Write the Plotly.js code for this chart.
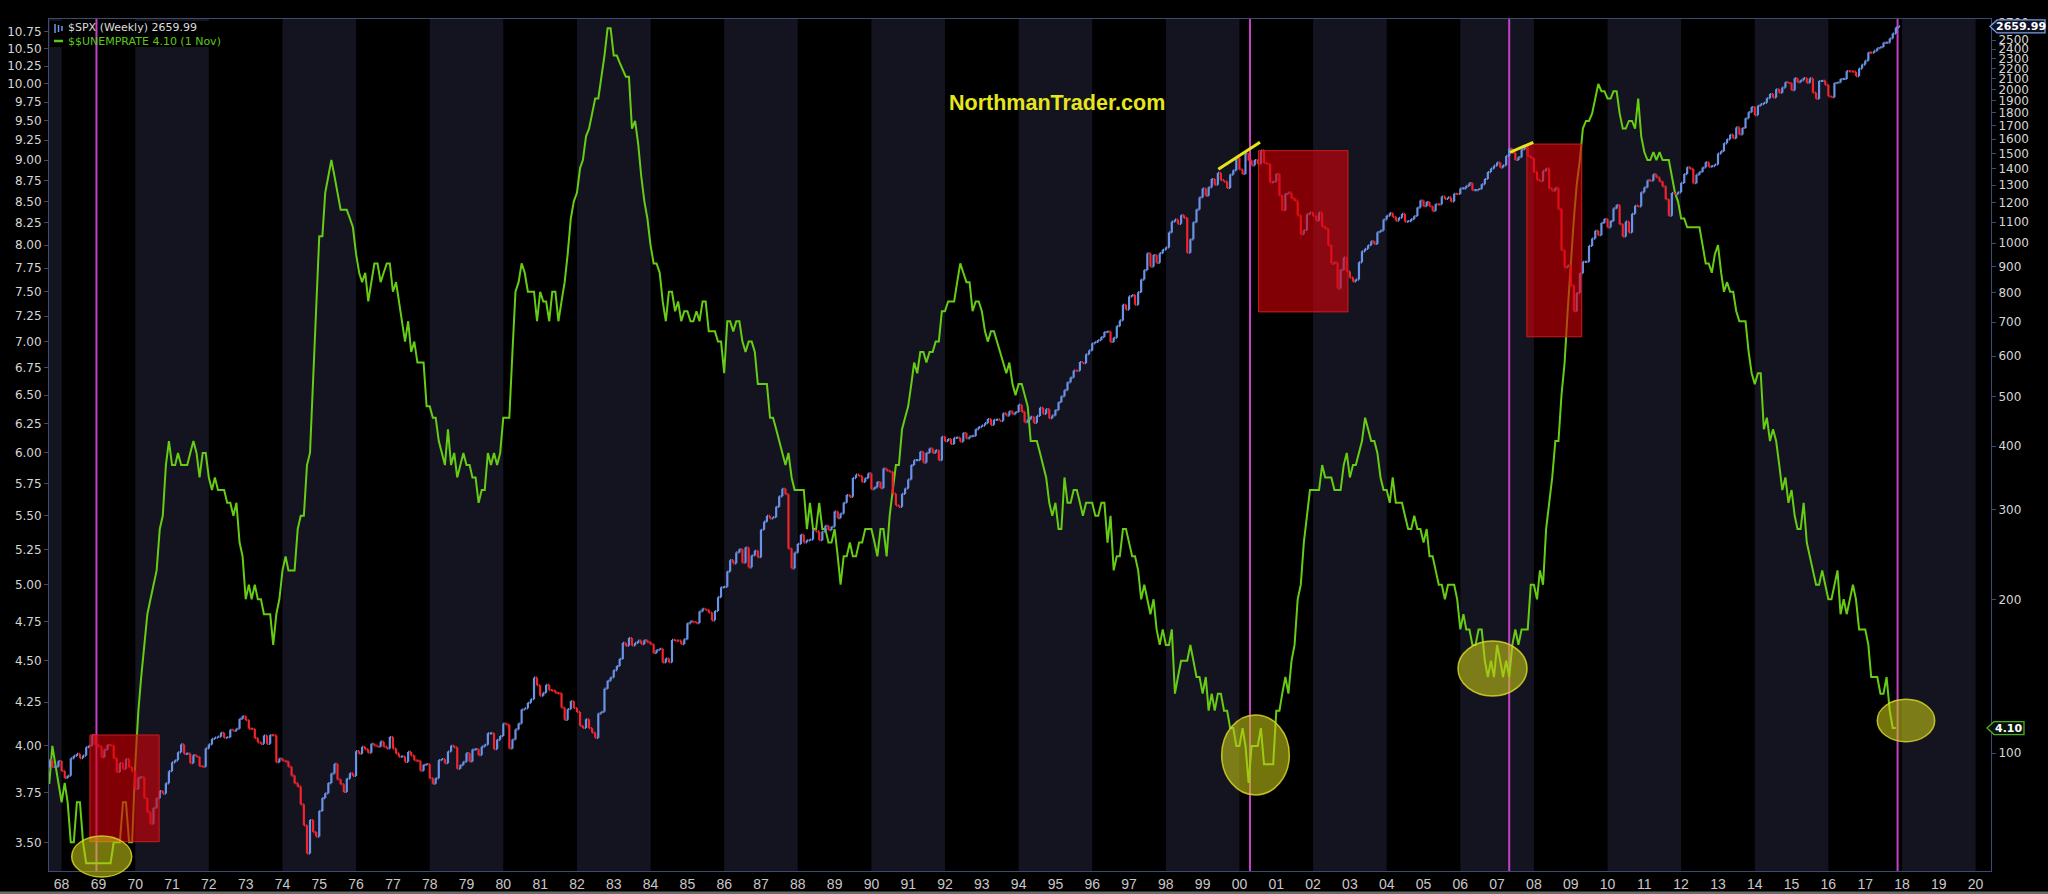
<!DOCTYPE html>
<html><head><meta charset="utf-8">
<script src="https://cdn.plot.ly/plotly-3.0.1.min.js"></script>
<style>html,body{margin:0;padding:0;background:#000;}#chart{width:2048px;height:894px;}</style>
</head><body><div id="chart"></div>
<script>
// ---------------- DATA ----------------
// Both series are monthly, starting August 1967.
const startYear = 1967, startMonth = 8;

// S&P 500 monthly closes
const spx1960s = [93.64,96.71,93.90,94.00,96.47,
 92.24,89.36,90.20,97.59,98.68,99.58,97.74,98.86,102.67,103.41,108.37,103.86,
 103.01,98.13,101.51,103.69,103.46,97.71,91.83,95.51,93.12,97.24,93.81,92.06];
const spx1970s = [
 85.02,89.50,89.63,81.52,76.55,72.72,78.05,81.52,84.21,83.25,87.20,92.15,
 95.88,96.75,100.31,103.95,99.63,99.70,95.58,99.03,98.34,94.23,93.99,102.09,
 103.94,106.57,107.20,107.67,109.53,107.14,107.39,111.09,110.55,111.58,116.67,118.05,
 116.03,111.68,111.52,106.97,104.95,104.26,108.22,104.25,108.43,108.29,95.96,97.55,
 96.57,96.22,93.98,90.31,87.28,86.00,79.31,72.15,63.54,73.90,69.97,68.56,
 76.98,81.59,83.36,87.30,91.15,95.19,88.75,86.88,83.87,89.04,91.24,90.19,
 100.86,99.71,102.77,101.64,100.18,104.28,103.44,102.91,105.24,102.90,102.10,107.46,
 102.03,99.82,98.42,98.44,96.12,100.48,98.85,96.77,96.53,92.34,94.83,95.10,
 89.25,87.04,89.21,96.83,97.24,95.53,100.68,103.29,102.54,93.15,94.70,96.11,
 99.93,96.28,101.59,101.76,99.08,102.91,103.81,109.32,109.32,101.82,106.16,107.94];
const spx1980s = [
 114.16,113.66,102.09,106.29,111.24,114.24,121.67,122.38,125.46,127.47,140.52,135.76,
 129.55,131.27,136.00,132.81,132.59,131.21,130.92,122.79,116.18,121.89,126.35,122.55,
 120.40,113.11,111.96,116.44,111.88,109.61,107.09,119.51,120.42,133.71,138.54,140.64,
 145.30,148.06,152.96,164.42,162.39,168.11,162.56,164.40,166.07,163.55,166.40,164.93,
 163.41,157.06,159.18,160.05,150.55,153.18,150.66,166.68,166.10,166.09,163.58,167.24,
 179.63,181.18,180.66,179.83,189.55,191.85,190.92,188.63,182.08,189.82,202.17,211.28,
 211.78,226.92,238.90,235.52,247.35,250.84,236.12,252.93,231.32,243.98,249.22,242.17,
 274.08,284.20,291.70,288.36,290.10,304.00,318.66,329.80,321.83,251.79,230.30,247.08,
 257.07,267.82,258.89,261.33,262.16,273.50,272.02,261.52,271.91,278.97,273.70,277.72,
 297.47,288.86,294.87,309.64,320.52,317.98,346.08,351.45,349.15,340.36,345.99,353.40];
const spx1990s = [
 329.08,331.89,339.94,330.80,361.23,358.02,356.15,322.56,306.05,304.00,322.22,330.22,
 343.93,367.07,375.22,375.35,389.83,371.16,387.81,395.43,387.86,392.46,375.22,417.09,
 408.79,412.70,403.69,414.95,415.35,408.14,424.21,414.03,417.80,418.68,431.35,435.71,
 438.78,443.38,451.67,440.19,450.19,450.53,448.13,463.56,458.93,467.83,461.79,466.45,
 481.61,467.14,445.77,450.91,456.50,444.27,458.26,475.49,462.69,472.35,453.69,459.27,
 470.42,487.39,500.71,514.71,533.40,544.75,562.06,561.88,584.41,581.50,605.37,615.93,
 636.02,640.43,645.50,654.17,669.12,670.63,639.95,651.99,687.31,705.27,757.02,740.74,
 786.16,790.82,757.12,801.34,848.28,885.14,954.31,899.47,947.28,914.62,955.40,970.43,
 980.28,1049.34,1101.75,1111.75,1090.82,1133.84,1120.67,957.28,1017.01,1098.67,1163.63,1229.23,
 1279.64,1238.33,1286.37,1335.18,1301.84,1372.71,1328.72,1320.41,1282.71,1362.93,1388.91,1469.25];
const spx2000s = [
 1394.46,1366.42,1498.58,1452.43,1420.60,1454.60,1430.83,1517.68,1436.51,1429.40,1314.95,1320.28,
 1366.01,1239.94,1160.33,1249.46,1255.82,1224.38,1211.23,1133.58,1040.94,1059.78,1139.45,1148.08,
 1130.20,1106.73,1147.39,1076.92,1067.14,989.82,911.62,916.07,815.28,885.76,936.31,879.82,
 855.70,841.15,848.18,916.92,963.59,974.50,990.31,1008.01,995.97,1050.71,1058.20,1111.92,
 1131.13,1144.94,1126.21,1107.30,1120.68,1140.84,1101.72,1104.24,1114.58,1130.20,1173.82,1211.92,
 1181.27,1203.60,1180.59,1156.85,1191.50,1191.33,1234.18,1220.33,1228.81,1207.01,1249.48,1248.29,
 1280.08,1280.66,1294.87,1310.61,1270.09,1270.20,1276.66,1303.82,1335.85,1377.94,1400.63,1418.30,
 1438.24,1406.82,1420.86,1482.37,1530.62,1503.35,1455.27,1473.99,1526.75,1549.38,1481.14,1468.36,
 1378.55,1330.63,1322.70,1385.59,1400.38,1280.00,1267.38,1282.83,1166.36,968.75,896.24,903.25,
 825.88,735.09,797.87,872.81,919.14,919.32,987.48,1020.62,1057.08,1036.19,1095.63,1115.10];
const spx2010s = [
 1073.87,1104.49,1169.43,1186.69,1089.41,1030.71,1101.60,1049.33,1141.20,1183.26,1180.55,1257.64,
 1286.12,1327.22,1325.83,1363.61,1345.20,1320.64,1292.28,1218.89,1131.42,1253.30,1246.96,1257.60,
 1312.41,1365.68,1408.47,1397.91,1310.33,1362.16,1379.32,1406.58,1440.67,1412.16,1416.18,1426.19,
 1498.11,1514.68,1569.19,1597.57,1630.74,1606.28,1685.73,1632.97,1681.55,1756.54,1805.81,1848.36,
 1782.59,1859.45,1872.34,1883.95,1923.57,1960.23,1930.67,2003.37,1972.29,2018.05,2067.56,2058.90,
 1994.99,2104.50,2067.89,2085.51,2107.39,2063.11,2103.84,1972.18,1920.03,2079.36,2080.41,2043.94,
 1940.24,1932.23,2059.74,2065.30,2096.95,2098.86,2173.60,2170.95,2168.27,2126.15,2198.81,2238.83,
 2278.87,2363.64,2362.72,2384.20,2411.80,2423.41,2470.30,2471.65,2519.36,2575.26,2647.58,2659.99];

// US unemployment rate (%), monthly
const unemp1960s = [3.8,3.8,4.0,3.9,3.8,
 3.7,3.8,3.7,3.5,3.5,3.7,3.7,3.5,3.4,3.4,3.4,3.4,
 3.4,3.4,3.4,3.4,3.4,3.5,3.5,3.5,3.7,3.7,3.5,3.5];
const unemp1970s = [
 3.9,4.2,4.4,4.6,4.8,4.9,5.0,5.1,5.4,5.5,5.9,6.1,
 5.9,5.9,6.0,5.9,5.9,5.9,6.0,6.1,6.0,5.8,6.0,6.0,
 5.8,5.7,5.8,5.7,5.7,5.7,5.6,5.6,5.5,5.6,5.3,5.2,
 4.9,5.0,4.9,5.0,4.9,4.9,4.8,4.8,4.8,4.6,4.8,4.9,
 5.1,5.2,5.1,5.1,5.1,5.4,5.5,5.5,5.9,6.0,6.6,7.2,
 8.1,8.1,8.6,8.8,9.0,8.8,8.6,8.4,8.4,8.4,8.3,8.2,
 7.9,7.7,7.6,7.7,7.4,7.6,7.8,7.8,7.6,7.7,7.8,7.8,
 7.5,7.6,7.4,7.2,7.0,7.2,6.9,7.0,6.8,6.8,6.8,6.4,
 6.4,6.3,6.3,6.1,6.0,5.9,6.2,5.9,6.0,5.8,5.9,6.0,
 5.9,5.9,5.8,5.8,5.6,5.7,5.7,6.0,5.9,6.0,5.9,6.0];
const unemp1980s = [
 6.3,6.3,6.3,6.9,7.5,7.6,7.8,7.7,7.5,7.5,7.5,7.2,
 7.5,7.4,7.4,7.2,7.5,7.5,7.2,7.4,7.6,7.9,8.3,8.5,
 8.6,8.9,9.0,9.3,9.4,9.6,9.8,9.8,10.1,10.4,10.8,10.8,
 10.4,10.4,10.3,10.2,10.1,10.1,9.4,9.5,9.2,8.8,8.5,8.3,
 8.0,7.8,7.8,7.7,7.4,7.2,7.5,7.5,7.3,7.4,7.2,7.3,
 7.3,7.2,7.2,7.3,7.2,7.4,7.4,7.1,7.1,7.1,7.0,7.0,
 6.7,7.2,7.2,7.1,7.2,7.2,7.0,6.9,7.0,7.0,6.9,6.6,
 6.6,6.6,6.6,6.3,6.3,6.2,6.1,6.0,5.9,6.0,5.8,5.7,
 5.7,5.7,5.7,5.4,5.6,5.4,5.4,5.6,5.4,5.4,5.3,5.3,
 5.4,5.2,5.0,5.2,5.2,5.3,5.2,5.2,5.3,5.3,5.4,5.4];
const unemp1990s = [
 5.4,5.3,5.2,5.4,5.4,5.2,5.5,5.7,5.9,5.9,6.2,6.3,
 6.4,6.6,6.8,6.7,6.9,6.9,6.8,6.9,6.9,7.0,7.0,7.3,
 7.3,7.4,7.4,7.4,7.6,7.8,7.7,7.6,7.6,7.3,7.4,7.4,
 7.3,7.1,7.0,7.1,7.1,7.0,6.9,6.8,6.7,6.8,6.6,6.5,
 6.6,6.6,6.5,6.4,6.1,6.1,6.1,6.0,5.9,5.8,5.6,5.5,
 5.6,5.4,5.4,5.8,5.6,5.6,5.7,5.7,5.6,5.5,5.6,5.6,
 5.6,5.5,5.5,5.6,5.6,5.3,5.5,5.1,5.2,5.2,5.4,5.4,
 5.3,5.2,5.2,5.1,4.9,5.0,4.9,4.8,4.9,4.7,4.6,4.7,
 4.6,4.6,4.7,4.3,4.4,4.5,4.5,4.5,4.6,4.5,4.4,4.4,
 4.3,4.4,4.2,4.3,4.2,4.3,4.3,4.2,4.2,4.1,4.1,4.0];
const unemp2000s = [
 4.0,4.1,4.0,3.8,4.0,4.0,4.0,4.1,3.9,3.9,3.9,3.9,
 4.2,4.2,4.3,4.4,4.3,4.5,4.6,4.9,5.0,5.3,5.5,5.7,
 5.7,5.7,5.7,5.9,5.8,5.8,5.8,5.7,5.7,5.7,5.9,6.0,
 5.8,5.9,5.9,6.0,6.1,6.3,6.2,6.1,6.1,6.0,5.8,5.7,
 5.7,5.6,5.8,5.6,5.6,5.6,5.5,5.4,5.4,5.5,5.4,5.4,
 5.3,5.4,5.2,5.2,5.1,5.0,5.0,4.9,5.0,5.0,5.0,4.9,
 4.7,4.8,4.7,4.7,4.6,4.6,4.7,4.7,4.5,4.4,4.5,4.4,
 4.6,4.5,4.4,4.5,4.4,4.6,4.7,4.6,4.7,4.7,4.7,5.0,
 5.0,4.9,5.1,5.0,5.4,5.6,5.8,6.1,6.1,6.5,6.8,7.3,
 7.8,8.3,8.7,9.0,9.4,9.5,9.5,9.6,9.8,10.0,9.9,9.9];
const unemp2010s = [
 9.8,9.8,9.9,9.9,9.6,9.4,9.4,9.5,9.5,9.4,9.8,9.3,
 9.1,9.0,9.0,9.1,9.0,9.1,9.0,9.0,9.0,8.8,8.6,8.5,
 8.3,8.3,8.2,8.2,8.2,8.2,8.2,8.0,7.8,7.8,7.7,7.9,
 8.0,7.7,7.5,7.6,7.5,7.5,7.3,7.2,7.2,7.2,6.9,6.7,
 6.6,6.7,6.7,6.2,6.3,6.1,6.2,6.1,5.9,5.7,5.8,5.6,
 5.7,5.5,5.4,5.4,5.6,5.3,5.2,5.1,5.0,5.0,5.1,5.0,
 4.9,4.9,5.0,5.1,4.8,4.9,4.8,4.9,5.0,4.9,4.7,4.7,
 4.7,4.6,4.4,4.4,4.4,4.3,4.3,4.4,4.2,4.1,4.1];

// Tick labels
const xTickText = ['68','69','70','71','72','73','74','75','76','77','78','79','80','81','82','83','84','85','86','87','88','89','90','91','92','93','94','95','96','97','98','99','00','01','02','03','04','05','06','07','08','09','10','11','12','13','14','15','16','17','18','19','20'];
const unempTickText = ['3.50','3.75','4.00','4.25','4.50','4.75','5.00','5.25','5.50','5.75','6.00','6.25','6.50','6.75','7.00','7.25','7.50','7.75','8.00','8.25','8.50','8.75','9.00','9.25','9.50','9.75','10.00','10.25','10.50','10.75'];
const spxTickText = ['100','200','300','400','500','600','700','800','900','1000','1100','1200','1300','1400','1500','1600','1700','1800','1900','2000','2100','2200','2300','2400','2500','2700'];

const legendSpx = '$SPX (Weekly) 2659.99';
const legendUnemp = '$$UNEMPRATE 4.10 (1 Nov)';
const lastSpx = 2659.99, lastUnemp = 4.10;

// ---------------- BUILD ----------------
const spxClose = [].concat(spx1960s, spx1970s, spx1980s, spx1990s, spx2000s, spx2010s);
const unempRate = [].concat(unemp1960s, unemp1970s, unemp1980s, unemp1990s, unemp2000s, unemp2010s);
function monthDate(i){
  const m = startMonth - 1 + i;
  const y = startYear + Math.floor(m / 12);
  const mo = (m % 12) + 1;
  return y + '-' + String(mo).padStart(2, '0') + '-01';
}
const spxX = spxClose.map((_, i) => monthDate(i));
const unX = unempRate.map((_, i) => monthDate(i));
const spxOpen = spxClose.map((c, i) => i ? spxClose[i - 1] : c);
const spxHigh = spxClose.map((c, i) => Math.max(c, spxOpen[i]));
const spxLow = spxClose.map((c, i) => Math.min(c, spxOpen[i]));

const xTickVals = xTickText.map(t => { const n = +t; return (n >= 50 ? 1900 + n : 2000 + n) + '-01-01'; });
const unempTickVals = unempTickText.map(Number);
const spxTickVals = spxTickText.map(Number);

// geometry
const L = 49, R = 1991, T = 19, B = 871;
const X_RANGE = ['1967-08-29', '2020-06-02'];
const UNEMP_RANGE = [3.364, 10.94], SPX_RANGE = [58.7, 2751];
const lg = Math.log10;
const fr = (v, r) => (lg(v) - lg(r[0])) / (lg(r[1]) - lg(r[0]));
const xp = px => (px - L) / (R - L);
const yp = py => (B - py) / (B - T);
const pyOf = f => B - f * (B - T);
function yrDate(y){
  const yr = Math.floor(y);
  const d = new Date(Date.UTC(yr, 0, 1) + (y - yr) * 365.25 * 86400000);
  return d.toISOString().slice(0, 10);
}

const BORDER = '#3c4b73';
const shapes = [];
// alternating background bands (2-year)
for (let y = 1966; y <= 2018; y += 4) {
  let x0 = y + '-01-01';
  if (x0 < X_RANGE[0]) x0 = X_RANGE[0];
  shapes.push({type:'rect', xref:'x', yref:'paper', x0:x0, x1:(y + 2) + '-01-01', y0:0, y1:1,
    fillcolor:'#141420', line:{width:0}, layer:'below'});
}
// legend background
shapes.push({type:'rect', xref:'paper', yref:'paper', x0:xp(50), x1:xp(242), y0:yp(47), y1:yp(21),
  fillcolor:'#000', line:{width:0}, layer:'below'});
// magenta vertical markers
[1968.95, 2000.29, 2007.33, 2017.88].forEach(y => {
  shapes.push({type:'line', xref:'x', yref:'paper', x0:yrDate(y), x1:yrDate(y), y0:0, y1:1,
    line:{color:'#c63fc6', width:2}, layer:'below'});
});
// red boxes (date span, S&P value span)
[[1968.77, 1970.65, 67, 108.5], [2000.52, 2002.95, 733, 1518], [2007.81, 2009.30, 655, 1564]].forEach(b => {
  shapes.push({type:'rect', xref:'x', yref:'paper', x0:yrDate(b[0]), x1:yrDate(b[1]),
    y0:fr(b[2], SPX_RANGE), y1:fr(b[3], SPX_RANGE),
    fillcolor:'rgba(215,0,10,0.6)', line:{color:'rgba(220,30,30,0.9)', width:1}, layer:'above'});
});
// yellow ellipses (pixel boxes)
[[71.7, 131.7, 836, 877], [1221.7, 1289.3, 715, 795], [1458, 1527, 641, 696], [1877.3, 1934.7, 699.3, 741.7]].forEach(e => {
  shapes.push({type:'circle', xref:'paper', yref:'paper', x0:xp(e[0]), x1:xp(e[1]), y0:yp(e[3]), y1:yp(e[2]),
    fillcolor:'rgba(200,200,20,0.58)', line:{color:'rgba(215,215,40,0.85)', width:1.5}, layer:'above'});
});
// yellow trend lines
[[1218.3, 169.3, 1260, 142.3], [1510, 152.3, 1533.3, 142.3]].forEach(l => {
  shapes.push({type:'line', xref:'paper', yref:'paper', x0:xp(l[0]), y0:yp(l[1]), x1:xp(l[2]), y1:yp(l[3]),
    line:{color:'#e4e41c', width:3}, layer:'above'});
});
// legend icons
[55, 58.5, 62].forEach((x, i) => {
  shapes.push({type:'line', xref:'paper', yref:'paper', x0:xp(x), x1:xp(x), y0:yp(33 - i), y1:yp(24 + i),
    line:{color:'#6c98ee', width:1.5}, layer:'above'});
});
shapes.push({type:'line', xref:'paper', yref:'paper', x0:xp(54), x1:xp(63), y0:yp(41), y1:yp(41),
  line:{color:'#5cc81a', width:2.5}, layer:'above'});
// right-edge value flags
function flagPath(xTip, xBody, xEnd, yc, h){
  return 'M' + xp(xTip) + ',' + yp(yc) + ' L' + xp(xBody) + ',' + yp(yc - h) + ' L' + xp(xEnd) + ',' + yp(yc - h) +
    ' L' + xp(xEnd) + ',' + yp(yc + h) + ' L' + xp(xBody) + ',' + yp(yc + h) + ' Z';
}
const ySpxFlag = pyOf(fr(lastSpx, SPX_RANGE));
const yUnFlag = pyOf(fr(lastUnemp, UNEMP_RANGE));
shapes.push({type:'path', xref:'paper', yref:'paper', path:flagPath(1990, 1997, 2045, ySpxFlag, 6.5),
  fillcolor:'#0c1022', line:{color:'#7d9de4', width:1.3}, layer:'above'});
shapes.push({type:'path', xref:'paper', yref:'paper', path:flagPath(1987, 1994, 2024, yUnFlag, 6.5),
  fillcolor:'#07120a', line:{color:'#4cae26', width:1.3}, layer:'above'});
// bottom frame strip
shapes.push({type:'rect', xref:'paper', yref:'paper', x0:xp(0), x1:xp(2048), y0:yp(894), y1:yp(891.5),
  fillcolor:'#6a6a6a', line:{width:0}, layer:'above'});

const annotations = [
  {xref:'paper', yref:'paper', x:xp(1057), y:yp(103), text:'<b>NorthmanTrader.com</b>', showarrow:false,
   xanchor:'center', yanchor:'middle', font:{family:'Liberation Sans, Arial, sans-serif', size:21.5, color:'#e6e61e'}},
  {xref:'paper', yref:'paper', x:xp(66), y:yp(28), text:legendSpx, showarrow:false, xanchor:'left', yanchor:'middle',
   font:{family:'DejaVu Sans', size:11, color:'#dcdcdc'}},
  {xref:'paper', yref:'paper', x:xp(66), y:yp(41.5), text:legendUnemp, showarrow:false, xanchor:'left', yanchor:'middle',
   font:{family:'DejaVu Sans', size:11, color:'#5cc81a'}},
  {xref:'paper', yref:'paper', x:xp(2021), y:yp(ySpxFlag), text:'<b>' + lastSpx.toFixed(2) + '</b>', showarrow:false,
   xanchor:'center', yanchor:'middle', font:{family:'DejaVu Sans', size:11, color:'#ffffff'}},
  {xref:'paper', yref:'paper', x:xp(2009), y:yp(yUnFlag), text:'<b>' + lastUnemp.toFixed(2) + '</b>', showarrow:false,
   xanchor:'center', yanchor:'middle', font:{family:'DejaVu Sans', size:11, color:'#ffffff'}}
];

const traces = [
  {type:'scatter', mode:'lines', x:unX, y:unempRate, yaxis:'y', name:'$$UNEMPRATE',
   line:{color:'#66cc14', width:2}, hoverinfo:'skip'},
  {type:'ohlc', x:spxX, open:spxOpen, high:spxHigh, low:spxLow, close:spxClose, yaxis:'y2', name:'$SPX',
   increasing:{line:{color:'#6a92e6', width:2.2}}, decreasing:{line:{color:'#f2242c', width:2.2}},
   tickwidth:0.45, hoverinfo:'skip'}
];

const tickFont = {family:'DejaVu Sans', size:12, color:'#d6d6d6'};
const layout = {
  width:2048, height:894,
  margin:{l:L, r:2048 - R, t:T, b:894 - B, pad:0},
  paper_bgcolor:'#000', plot_bgcolor:'#000',
  showlegend:false, hovermode:false,
  xaxis:{type:'date', range:X_RANGE, tickmode:'array', tickvals:xTickVals, ticktext:xTickText,
    ticks:'', showgrid:false, zeroline:false, showline:true, linecolor:BORDER, linewidth:1, mirror:true,
    tickfont:{family:'Liberation Sans, Arial, sans-serif', size:14, color:'#c8c8c8'},
    rangeslider:{visible:false}, fixedrange:true},
  yaxis:{type:'log', range:[lg(UNEMP_RANGE[0]), lg(UNEMP_RANGE[1])], tickmode:'array',
    tickvals:unempTickVals, ticktext:unempTickText, ticks:'outside', ticklen:4, tickcolor:BORDER,
    showgrid:false, zeroline:false, showline:true, linecolor:BORDER, linewidth:1, mirror:true,
    tickfont:tickFont, fixedrange:true},
  yaxis2:{type:'log', overlaying:'y', side:'right', range:[lg(SPX_RANGE[0]), lg(SPX_RANGE[1])],
    tickmode:'array', tickvals:spxTickVals, ticktext:spxTickText, ticks:'outside', ticklen:4, tickcolor:BORDER,
    showgrid:false, zeroline:false, showline:false, tickfont:tickFont, fixedrange:true},
  shapes:shapes, annotations:annotations
};

Plotly.newPlot('chart', traces, layout, {displayModeBar:false, staticPlot:true});
</script>
</body></html>
